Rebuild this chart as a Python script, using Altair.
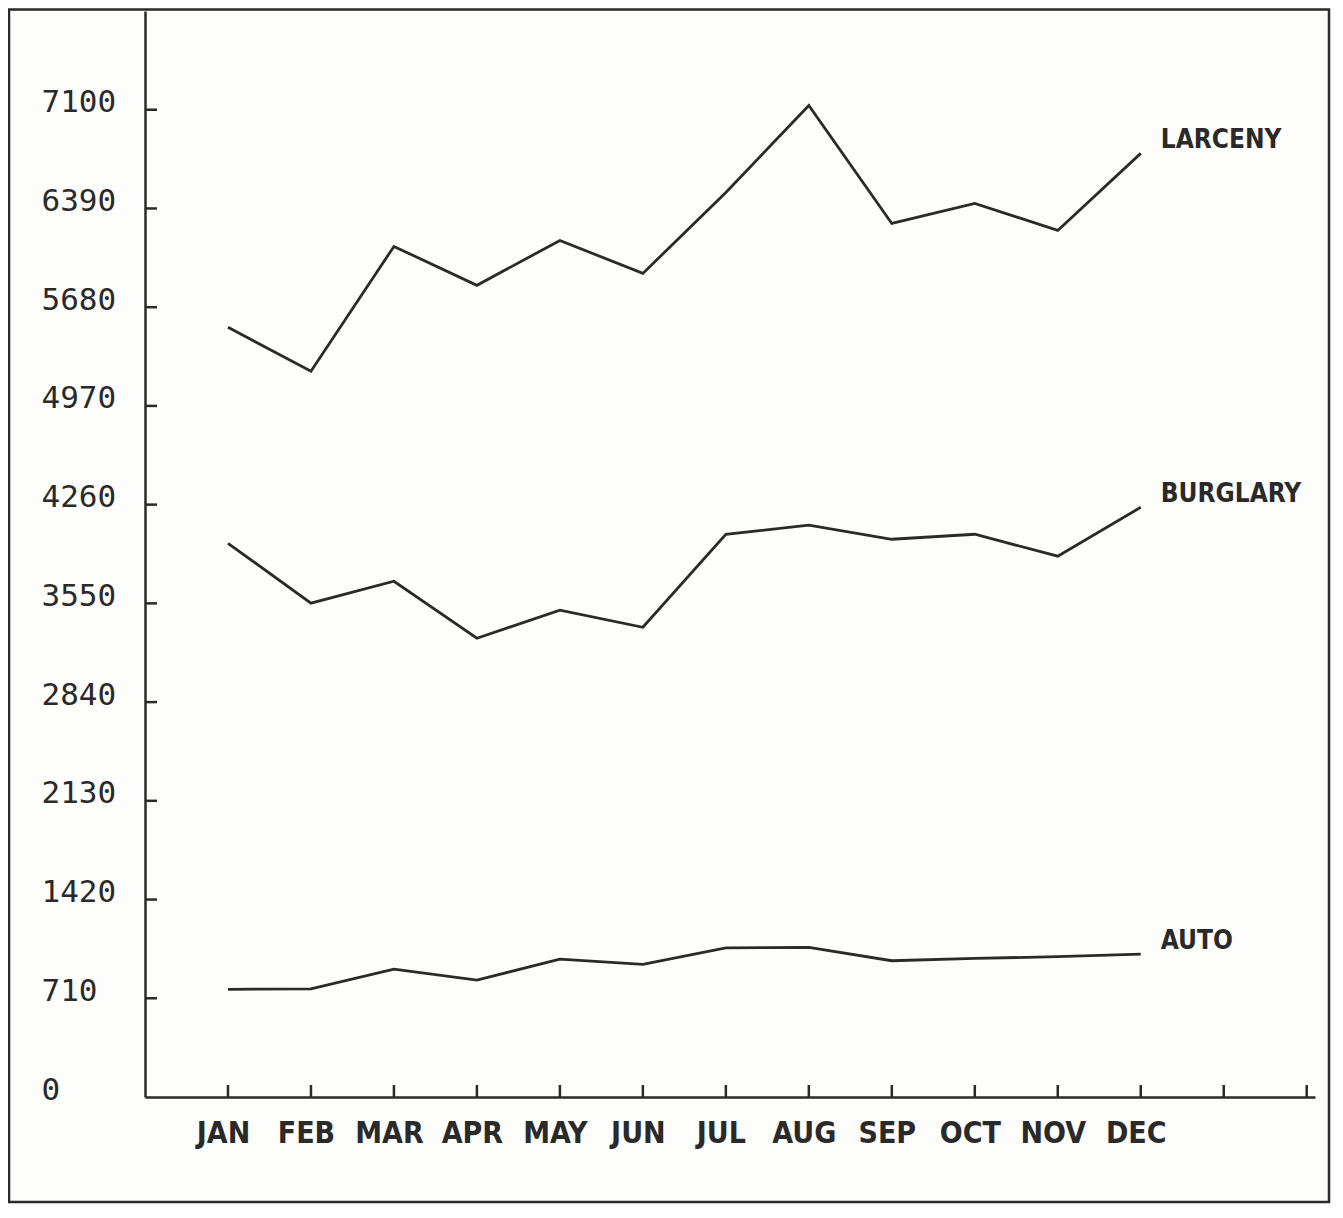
import altair as alt
import pandas as pd

MONTHS = ["JAN", "FEB", "MAR", "APR", "MAY", "JUN", "JUL", "AUG", "SEP", "OCT", "NOV", "DEC"]
SERIES = ["LARCENY", "BURGLARY", "AUTO"]
LARCENY = [5535, 5219, 6117, 5837, 6160, 5923, 6505, 7131, 6282, 6426, 6232, 6786]
BURGLARY = [3982, 3551, 3709, 3299, 3501, 3378, 4047, 4112, 4011, 4047, 3889, 4241]
AUTO = [774, 778, 920, 841, 992, 954, 1073, 1076, 980, 997, 1009, 1028]
Y_TICKS = [0, 710, 1420, 2130, 2840, 3550, 4260, 4970, 5680, 6390, 7100]
X_TICKS = list(range(1, 15))  # 12 months plus two unlabeled positions
Y_MAX = 7810
X_MAX = 14.1

W, H = 1170, 1086
INK = "#2a2a2a"
COND = "Liberation Sans Narrow, DejaVu Sans Condensed, sans-serif"

rows = []
for name, vals in zip(SERIES, [LARCENY, BURGLARY, AUTO]):
    for i, v in enumerate(vals):
        rows.append({"series": name, "month": MONTHS[i], "x": i + 1, "y": v})
df = pd.DataFrame(rows)

label_expr = "[" + ",".join(f"'{m}'" for m in MONTHS) + "][datum.value - 1]"

x_enc = alt.X(
    "x:Q",
    title=None,
    scale=alt.Scale(domain=[0, X_MAX], nice=False, zero=False),
    axis=alt.Axis(
        values=list(range(1, 13)),
        labelExpr=label_expr,
        grid=False,
        ticks=False,
        tickSize=0,
        domainColor=INK,
        domainWidth=2.5,
        labelFont=COND,
        labelFontWeight="bold",
        labelFontSize=30,
        labelColor=INK,
        labelPadding=21,
        labelOffset=-5,
        labelOverlap=False,
        labelFlush=False,
        labelBaseline="top",
    ),
)
y_enc = alt.Y(
    "y:Q",
    title=None,
    scale=alt.Scale(domain=[0, Y_MAX], nice=False, zero=True),
    axis=alt.Axis(
        values=Y_TICKS,
        format="d",
        grid=False,
        ticks=False,
        tickSize=0,
        domainColor=INK,
        domainWidth=2.5,
        labelFont="DejaVu Sans Mono",
        labelFontSize=31,
        labelColor=INK,
        labelAlign="left",
        labelBaseline="alphabetic",
        labelPadding=104,
        labelOffset=2,
        labelOverlap=False,
        labelFlush=False,
    ),
)

frame = alt.Chart(alt.Data(values=[{"frame": 1}])).mark_rect(
    filled=False, stroke=INK, strokeWidth=2.5
).encode(
    x=alt.value(-136), x2=alt.value(1184), y=alt.value(-1.5), y2=alt.value(1191)
)

lines = alt.Chart(df).mark_line(color=INK, strokeWidth=2.8).encode(
    x=x_enc, y=y_enc, detail="series:N", order="x:Q"
)

yticks = alt.Chart(pd.DataFrame({"y": Y_TICKS[1:]})).mark_rule(
    color=INK, strokeWidth=2.5
).encode(x=alt.value(0), x2=alt.value(12), y=y_enc)

xticks = alt.Chart(pd.DataFrame({"x": X_TICKS})).mark_rule(
    color=INK, strokeWidth=2.5
).encode(x=x_enc, y=alt.value(H), y2=alt.value(H - 12))

labels = alt.Chart(df).transform_filter(
    alt.datum.x == len(MONTHS)
).mark_text(
    align="left",
    baseline="middle",
    dx=20,
    dy=-13,
    font=COND,
    fontWeight="bold",
    fontSize=26,
    color=INK,
).encode(x=x_enc, y=y_enc, text="series:N")

chart = alt.layer(frame, lines, yticks, xticks, labels).properties(
    width=W,
    height=H,
    padding={"left": 137, "top": 3, "right": 18, "bottom": 107},
    autosize=alt.AutoSizeParams(type="none"),
    background="#fdfdfb",
).configure_view(strokeWidth=0)

chart.save("out.html", embed_options={"renderer": "svg", "actions": False})
